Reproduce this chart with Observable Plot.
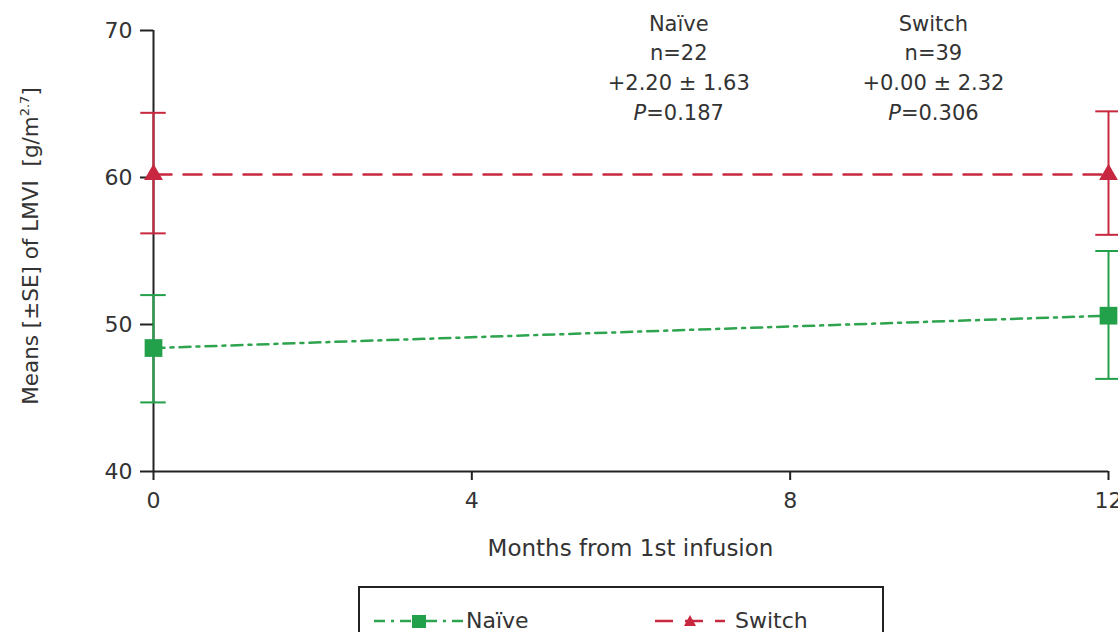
<!DOCTYPE html>
<html>
<head>
<meta charset="utf-8">
<script src="https://cdn.jsdelivr.net/npm/d3@7"></script>
<script src="https://cdn.jsdelivr.net/npm/@observablehq/plot@0.6"></script>
<style>
  body { margin: 0; background: #fff; font-family: "DejaVu Sans", sans-serif; color: #333; }
  #wrap { position: relative; width: 1118px; height: 632px; overflow: hidden; }
  #legend { position: absolute; left: 358px; top: 586px; width: 526px; height: 60px;
            border: 2px solid #222; box-sizing: border-box; }
  .item { position: absolute; top: 20px; display: flex; align-items: center; font-size: 22px; color: #333; }
</style>
</head>
<body>
<div id="wrap">
  <div id="chart"></div>
  <div id="legend">
    <div class="item" style="left:14px">
      <svg width="90" height="20"><line x1="0" y1="10" x2="90" y2="10" stroke="#2ea44f" stroke-width="2.5" stroke-dasharray="11,6,3,6"/><rect x="38" y="4" width="14" height="13" fill="#22a04a"/></svg><span style="margin-left:2px">Naïve</span>
    </div>
    <div class="item" style="left:295px">
      <svg width="70" height="20"><line x1="0" y1="10" x2="70" y2="10" stroke="#c8283f" stroke-width="2.5" stroke-dasharray="18,12"/><path d="M35,4 L41,15 L29,15 Z" fill="#c8283f"/></svg><span style="margin-left:10px">Switch</span>
    </div>
  </div>
</div>
<script>
const months = [0, 12];
const naiveMean = [48.4, 50.6];
const naiveLow = [44.7, 46.3];
const naiveHigh = [52.0, 55.0];
const switchMean = [60.2, 60.2];
const switchLow = [56.2, 56.1];
const switchHigh = [64.4, 64.5];
const xTicks = [0, 4, 8, 12];
const yTicks = [40, 50, 60, 70];
const groups = ["Naïve", "Switch"];
const groupN = [22, 39];
const groupChange = ["+2.20 ± 1.63", "+0.00 ± 2.32"];
const groupP = ["0.187", "0.306"];
const annotX = [6.6, 9.8];

const colors = {"Naïve": "#22a04a", "Switch": "#c8283f"};
const lineColors = {"Naïve": "#2ea44f", "Switch": "#c8283f"};

const rows = [];
months.forEach((m, i) => {
  rows.push({group: "Naïve", month: m, mean: naiveMean[i], low: naiveLow[i], high: naiveHigh[i]});
  rows.push({group: "Switch", month: m, mean: switchMean[i], low: switchLow[i], high: switchHigh[i]});
});
const naive = rows.filter(d => d.group === "Naïve");
const sw = rows.filter(d => d.group === "Switch");
const annots = groups.map((g, i) => ({x: annotX[i], text: `${g}\nn=${groupN[i]}\n${groupChange[i]}\nP=${groupP[i]}`}));
const capHalf = 0.16;

const chart = Plot.plot({
  width: 1118,
  height: 575,
  marginLeft: 153,
  marginRight: 10,
  marginTop: 30,
  marginBottom: 104,
  style: {fontFamily: "DejaVu Sans, sans-serif", fontSize: "22px", color: "#333", background: "transparent", overflow: "visible"},
  x: {domain: [0, 12]},
  y: {domain: [40, 70]},
  marks: [
    Plot.axisX({ticks: xTicks, tickSize: 9, tickPadding: 12, label: null, stroke: "#222", strokeWidth: 2, fontSize: 22, fill: "#333"}),
    Plot.axisY({ticks: yTicks, tickSize: 13, tickPadding: 8, label: null, stroke: "#222", strokeWidth: 2, fontSize: 22, fill: "#333"}),
    Plot.ruleX([0], {stroke: "#222", strokeWidth: 2}),
    Plot.ruleY([40], {stroke: "#222", strokeWidth: 2}),
    // error bars
    Plot.ruleX(rows, {x: "month", y1: "low", y2: "high", stroke: d => colors[d.group], strokeWidth: 2}),
    Plot.ruleY(rows, {y: "low", x1: d => d.month - capHalf, x2: d => d.month + capHalf, stroke: d => colors[d.group], strokeWidth: 2}),
    Plot.ruleY(rows, {y: "high", x1: d => d.month - capHalf, x2: d => d.month + capHalf, stroke: d => colors[d.group], strokeWidth: 2}),
    // lines
    Plot.line(naive, {x: "month", y: "mean", stroke: lineColors["Naïve"], strokeWidth: 2.5, strokeDasharray: "11,6,3,6"}),
    Plot.line(sw, {x: "month", y: "mean", stroke: lineColors["Switch"], strokeWidth: 2.5, strokeDasharray: "18,12"}),
    // markers
    Plot.dot(naive, {x: "month", y: "mean", symbol: "square", r: 10, fill: colors["Naïve"], stroke: "none"}),
    Plot.dot(sw, {x: "month", y: "mean", symbol: "triangle", r: 7, fill: colors["Switch"], stroke: "none"}),
    // annotations
    Plot.text(annots, {x: "x", y: () => 70, text: "text", lineAnchor: "top", dy: -21, lineHeight: 1.42, fontSize: 21, fill: "#333", className: "annot"})
  ]
});
document.getElementById("chart").appendChild(chart);

const svg = d3.select(chart);
// italic P
svg.selectAll("tspan").each(function() {
  const t = this.textContent;
  if (/^P=/.test(t)) {
    const rest = t.slice(1);
    this.textContent = "";
    d3.select(this).append("tspan").attr("font-style", "italic").text("P");
    d3.select(this).append("tspan").text(rest);
  }
});
// axis titles
svg.append("text")
  .attr("x", (153 + 1108) / 2).attr("y", 556)
  .attr("text-anchor", "middle").attr("fill", "#333").attr("font-size", 23)
  .text("Months from 1st infusion");
const yl = svg.append("text")
  .attr("transform", "translate(38,246) rotate(-90)")
  .attr("text-anchor", "middle").attr("fill", "#333").attr("font-size", 21.5);
yl.append("tspan").text("Means [±SE] of LMVI  [g/m");
yl.append("tspan").attr("font-size", 13).attr("dy", -9).text("2.7");
yl.append("tspan").attr("dy", 9).text("]");
</script>
</body>
</html>
